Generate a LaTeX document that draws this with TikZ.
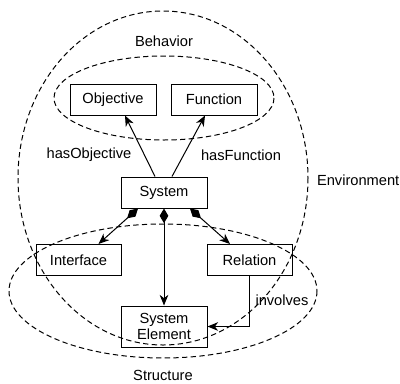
\documentclass[tikz,border=0pt]{standalone}
\usepackage{fontspec}
\setmainfont{Liberation Sans}
\usetikzlibrary{arrows.meta,calc}

\tikzset{every picture/.style={line width=0.75pt}}
\tikzset{
  box/.style={draw,minimum width=64.5pt,minimum height=23.25pt,inner sep=1pt,align=center},
  grp/.style={dash pattern=on 4pt off 2.5pt},
  hd/.style={-{Stealth[length=8pt,width=6.5pt,inset=2.5pt]}},
  agg/.style={{Diamond[length=11pt,width=6.5pt]}-{Stealth[length=8pt,width=6.5pt,inset=2.5pt]}}
}

\begin{document}
\begin{tikzpicture}[x=0.75pt,y=0.75pt,yscale=-1,xscale=1,font=\fontsize{11}{12.5}\selectfont]
\useasboundingbox (0,0) rectangle (400,383);

%Shape: Ellipse Environment
\draw [grp] (163,178) ellipse (145 and 167);
%Shape: Ellipse Behavior
\draw [grp] (164,98) ellipse (110 and 42);
%Shape: Ellipse Structure
\draw [grp] (163,291) ellipse (154 and 67);

% Boxes
\node [box] (obj) at (113,99.5) {Objective};
\node [box] (fun) at (214,99.5) {Function};
\node [box] (sys) at (164,192.5) {System};
\node [box,minimum width=63.75pt] (intf) at (78.5,260) {Interface};
\node [box,minimum width=63.75pt] (rel) at (249.5,260) {Relation};
\node [box,minimum height=30.75pt] (se) at (164,326.5) {System\\Element};

%Straight Lines
\draw [hd] ($(sys.north)+(-9,0)$) -- ($(obj.south)+(12,0)$);
\draw [hd] ($(sys.north)+(8,0)$) -- ($(fun.south)+(-9,0)$);
\draw [agg] ($(sys.south)+(-26,0)$) -- ($(intf.north)+(20,0)$);
\draw [agg] (sys.south) -- (se.north);
\draw [agg] ($(sys.south)+(26,0)$) -- ($(rel.north)+(-19.5,0)$);
\draw [hd] (rel.south) -- (rel.south |- se.east) -- (se.east);

% Text Node
\node (behlbl) at (164,41) {Behavior};
\node [inner sep=0pt] (strlbl) at (163,375) {Structure};
\node [anchor=west,inner sep=0pt] (envlbl) at (316.5,180) {Environment};
\node (hasobj) at (89,155) {hasObjective};
\node (hasfun) at (241,155) {hasFunction};
\node [anchor=west,inner sep=0pt] (invlbl) at (255,300) {involves};

\end{tikzpicture}
\end{document}
